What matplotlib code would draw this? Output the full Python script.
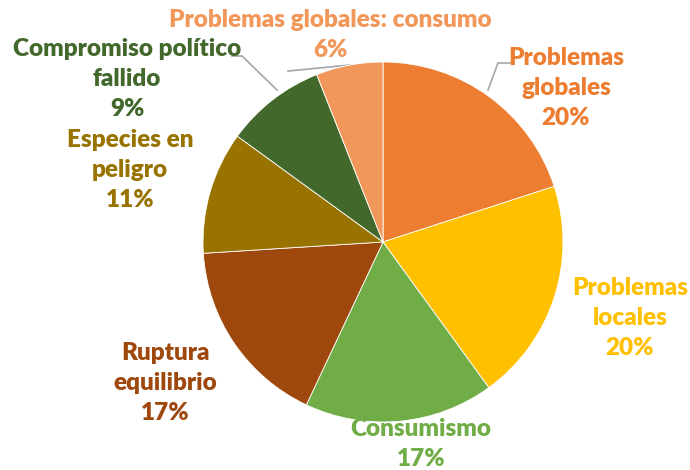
import matplotlib
matplotlib.use('Agg')
import matplotlib.pyplot as plt

labels = ['Problemas\nglobales', 'Problemas\nlocales', 'Consumismo', 'Ruptura\nequilibrio',
          'Especies en\npeligro', 'Compromiso político\nfallido', 'Problemas globales: consumo']
values = [20, 20, 17, 17, 11, 9, 6]
colors = ['#ED7D31', '#FFC000', '#70AD47', '#9E480E', '#997300', '#43682B', '#F1975A']

# label centres in pixels of the 690x470 picture
label_px = [(566, 88), (630, 318), (421, 444), (165, 383), (130, 170), (127, 79), (330, 35)]

W, H = 690, 470
cx, cy, r = 383, 242, 180

fig = plt.figure(figsize=(6.9, 4.7), dpi=100)
ax = fig.add_axes([(cx - r) / W, (H - cy - r) / H, 2 * r / W, 2 * r / H])
ax.pie(values, colors=colors, startangle=90, counterclock=False, radius=1,
       wedgeprops=dict(edgecolor='white', linewidth=0.6))
ax.set_xlim(-1, 1)
ax.set_ylim(-1, 1)
ax.set_aspect('equal')


def to_data(px, py):
    return (px - cx) / r, (cy - py) / r


for lab, val, col, (px, py) in zip(labels, values, colors, label_px):
    x, y = to_data(px, py)
    ax.text(x, y, '%s\n%d%%' % (lab, val), color=col, ha='center', va='center',
            fontsize=17.5, fontweight='heavy', family='Lato', linespacing=1.42,
            clip_on=False)

# leader lines
leaders = [
    [(488, 90), (498, 63), (510, 63)],
    [(277, 90), (242, 56), (232, 56)],
    [(350, 65), (288, 71)],
]
for pts in leaders:
    xs, ys = zip(*[to_data(p, q) for p, q in pts])
    ax.plot(xs, ys, color='#A6A6A6', lw=1.2, clip_on=False, zorder=0.5)

fig.savefig('out.png', dpi=100)
